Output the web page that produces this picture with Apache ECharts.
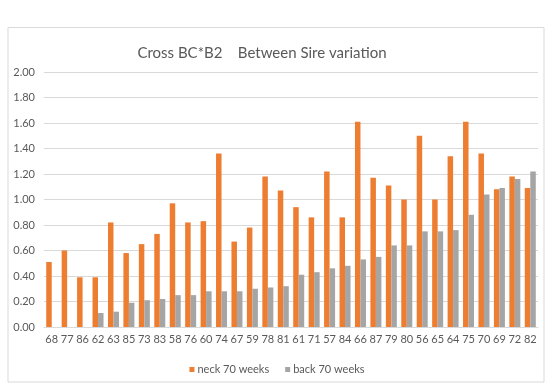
<!DOCTYPE html>
<html>
<head>
<meta charset="utf-8">
<script src="https://cdn.jsdelivr.net/npm/echarts@6/dist/echarts.min.js"></script>
<style>
html,body{margin:0;padding:0;background:#fff;}
#chart{width:554px;height:388px;}
</style>
</head>
<body>
<div id="chart"></div>
<script>
const categories = ['68','77','86','62','63','85','73','83','58','76','60','74','67','59','78','81','61','71','57','84','66','87','79','80','56','65','64','75','70','69','72','82'];
const neck = [0.51,0.60,0.39,0.39,0.82,0.58,0.65,0.73,0.97,0.82,0.83,1.36,0.67,0.78,1.18,1.07,0.94,0.86,1.22,0.86,1.61,1.17,1.11,1.00,1.50,1.00,1.34,1.61,1.36,1.08,1.18,1.09];
const back = [0,0,0,0.11,0.12,0.19,0.21,0.22,0.25,0.25,0.28,0.28,0.28,0.30,0.31,0.32,0.41,0.43,0.46,0.48,0.53,0.55,0.64,0.64,0.75,0.75,0.76,0.88,1.04,1.09,1.16,1.22];
const yTicks = { min: 0, max: 2, interval: 0.2 };

const chart = echarts.init(document.getElementById('chart'), null, {renderer: 'canvas'});
const font = 'Lato, "Open Sans", sans-serif';
chart.setOption({
  animation: false,
  backgroundColor: '#ffffff',
  graphic: [{
    type: 'rect',
    shape: { x: 8, y: 27.5, width: 536, height: 354.5 },
    style: { fill: 'none', stroke: '#D9D9D9', lineWidth: 1 },
    silent: true
  }],
  title: {
    text: 'Cross BC*B2    Between Sire variation',
    left: 257, top: 41,
    textAlign: 'center',
    textStyle: { fontFamily: font, fontSize: 15, fontWeight: 'normal', color: '#595959' }
  },
  legend: {
    data: ['neck 70 weeks', 'back 70 weeks'],
    left: 'center', top: 359,
    itemWidth: 5, itemHeight: 5, itemGap: 16,
    icon: 'rect',
    textStyle: { fontFamily: font, fontSize: 11, color: '#595959', padding: [0,0,0,-2] }
  },
  grid: { left: 44, right: 16, top: 72, bottom: 61, containLabel: false },
  xAxis: {
    type: 'category',
    data: categories,
    axisLine: { lineStyle: { color: '#D9D9D9' } },
    axisTick: { show: false },
    axisLabel: { interval: 0, fontFamily: font, fontSize: 11, color: '#595959', margin: 7 }
  },
  yAxis: {
    type: 'value',
    min: yTicks.min, max: yTicks.max, interval: yTicks.interval,
    axisLine: { show: false },
    axisTick: { show: false },
    splitLine: { lineStyle: { color: '#D9D9D9' } },
    axisLabel: { fontFamily: font, fontSize: 11, color: '#595959', margin: 9, formatter: v => v.toFixed(2) }
  },
  series: [
    { name: 'neck 70 weeks', type: 'bar', data: neck, barWidth: 5.5, barGap: '0%', itemStyle: { color: '#ED7D31' } },
    { name: 'back 70 weeks', type: 'bar', data: back, barWidth: 5.5, itemStyle: { color: '#A5A5A5' } }
  ]
});
</script>
</body>
</html>
